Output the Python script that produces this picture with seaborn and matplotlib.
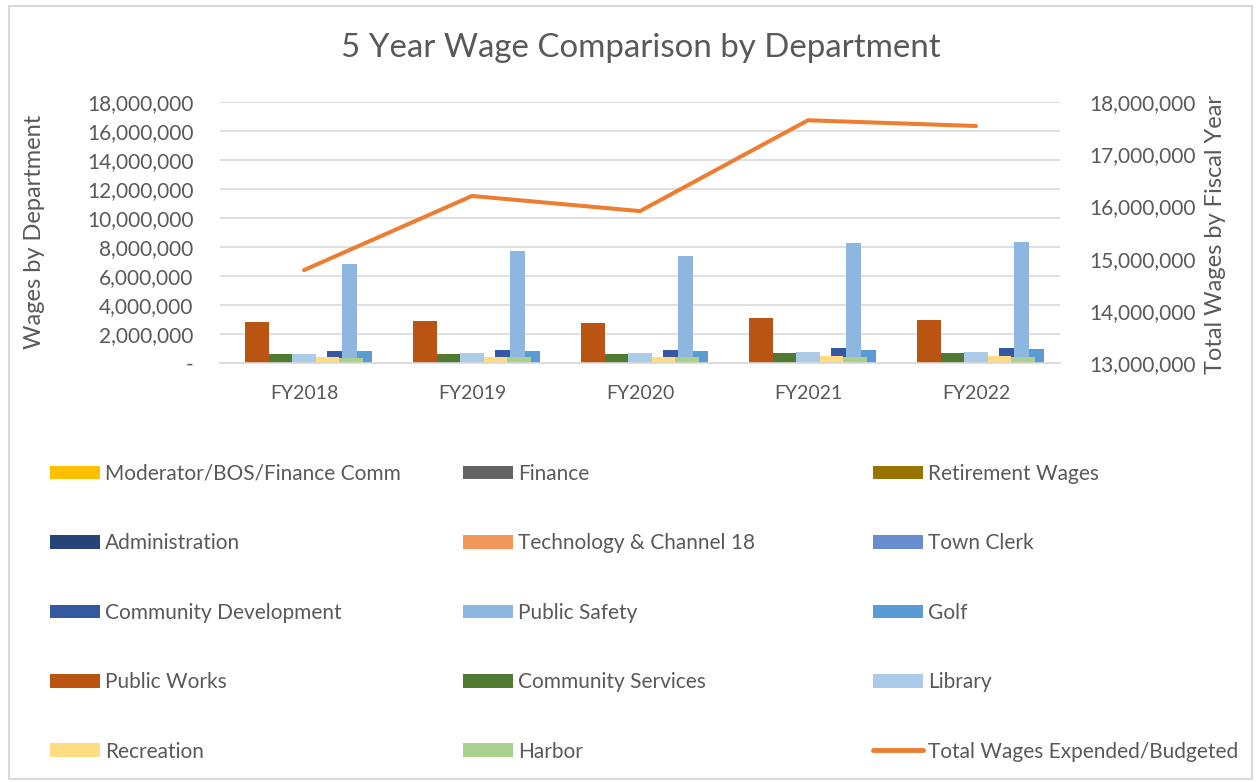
import numpy as np
import pandas as pd
import matplotlib
matplotlib.use('Agg')
import matplotlib.pyplot as plt
import seaborn as sns
from matplotlib.patches import Patch, Rectangle
from matplotlib.lines import Line2D
from matplotlib.ticker import FuncFormatter, MultipleLocator

# ---------------- data ----------------
years = ['FY2018', 'FY2019', 'FY2020', 'FY2021', 'FY2022']

moderator_bos_finance = [0, 0, 0, 0, 0]
finance = [0, 0, 0, 0, 0]
retirement_wages = [0, 0, 0, 0, 0]
administration = [0, 0, 0, 0, 0]
technology_channel18 = [0, 0, 0, 0, 0]
town_clerk = [0, 0, 0, 0, 0]
community_development = [830000, 900000, 900000, 1060000, 1030000]
public_safety = [6830000, 7720000, 7380000, 8300000, 8340000]
golf = [830000, 850000, 800000, 900000, 940000]
public_works = [2810000, 2900000, 2780000, 3080000, 2990000]
community_services = [620000, 620000, 620000, 690000, 690000]
library = [620000, 690000, 690000, 760000, 760000]
recreation = [410000, 440000, 440000, 480000, 480000]
harbor = [370000, 390000, 410000, 440000, 440000]
total_wages = [14780000, 16200000, 15910000, 17650000, 17540000]

group_a = {
    'Moderator/BOS/Finance Comm': moderator_bos_finance,
    'Finance': finance,
    'Retirement Wages': retirement_wages,
    'Administration': administration,
    'Technology & Channel 18': technology_channel18,
    'Town Clerk': town_clerk,
    'Community Development': community_development,
    'Public Safety': public_safety,
    'Golf': golf,
}
group_b = {
    'Public Works': public_works,
    'Community Services': community_services,
    'Library': library,
    'Recreation': recreation,
    'Harbor': harbor,
}
line_label = 'Total Wages Expended/Budgeted'

colors = {
    'Moderator/BOS/Finance Comm': '#FFC000',
    'Finance': '#636363',
    'Retirement Wages': '#997300',
    'Administration': '#264478',
    'Technology & Channel 18': '#F1975A',
    'Town Clerk': '#698ED0',
    'Community Development': '#335AA1',
    'Public Safety': '#8DB6E0',
    'Golf': '#5B9BD5',
    'Public Works': '#B95412',
    'Community Services': '#507A30',
    'Library': '#ABCBE8',
    'Recreation': '#FFDC82',
    'Harbor': '#AAD08E',
}
line_color = '#ED7D31'
text_color = '#595959'
grid_color = '#D9D9D9'


def to_long(group):
    rows = []
    for dept, vals in group.items():
        for y, v in zip(years, vals):
            rows.append({'year': y, 'dept': dept, 'value': v})
    return pd.DataFrame(rows)


df_a = to_long(group_a)
df_b = to_long(group_b)

# ---------------- figure ----------------
sns.set_style('white')
plt.rcParams['font.family'] = ['Lato', 'DejaVu Sans']

W, H = 1256, 782
fig = plt.figure(figsize=(W / 100, H / 100), dpi=100)
ax = fig.add_axes([220 / W, 1 - 363 / H, 840 / W, 261 / H])

sns.barplot(data=df_a, x='year', y='value', hue='dept', order=years,
            hue_order=list(group_a.keys()), palette=colors, width=0.804,
            dodge=True, errorbar=None, legend=False, saturation=1,
            linewidth=0, ax=ax)
sns.barplot(data=df_b, x='year', y='value', hue='dept', order=years,
            hue_order=list(group_b.keys()), palette=colors, width=0.70,
            dodge=True, errorbar=None, legend=False, saturation=1,
            linewidth=0, ax=ax)

ax.set_ylim(0, 18000000)
ax.set_xlim(-0.5, 4.5)
ax.yaxis.set_major_locator(MultipleLocator(2000000))
ax.yaxis.set_major_formatter(FuncFormatter(lambda v, p: '-' if v == 0 else f'{v:,.0f}'))
ax.set_axisbelow(True)
ax.yaxis.grid(True, color=grid_color, linewidth=1.2)
ax.xaxis.grid(False)
ax.set_xlabel('')
ax.set_ylabel('')
for s in ['top', 'left', 'right']:
    ax.spines[s].set_visible(False)
ax.spines['bottom'].set_color(grid_color)
ax.spines['bottom'].set_linewidth(1.2)
ax.tick_params(axis='y', length=0, pad=19, labelsize=15, labelcolor=text_color)
ax.tick_params(axis='x', length=0, pad=16, labelsize=14, labelcolor=text_color)

ax2 = ax.twinx()
sns.lineplot(x=np.arange(len(years)), y=total_wages, ax=ax2, color=line_color,
             linewidth=2.9, legend=False, solid_capstyle='round')
ax2.set_ylim(13000000, 18000000)
ax2.set_xlim(-0.5, 4.5)
ax2.yaxis.set_major_locator(MultipleLocator(1000000))
ax2.yaxis.set_major_formatter(FuncFormatter(lambda v, p: f'{v:,.0f}'))
ax2.grid(False)
for s in ax2.spines.values():
    s.set_visible(False)
ax2.tick_params(axis='y', length=0, pad=21, labelsize=15, labelcolor=text_color)

# titles / labels
fig.text(641 / W, 1 - 48 / H, '5 Year Wage Comparison by Department',
         ha='center', va='center', fontsize=23.8, color=text_color)
fig.text(35 / W, 1 - 232 / H, 'Wages by Department', rotation=90,
         ha='center', va='center', fontsize=17, color=text_color)
fig.text(1215 / W, 1 - 235 / H, 'Total Wages by Fiscal Year', rotation=90,
         ha='center', va='center', fontsize=17, color=text_color)

# border
fig.add_artist(Rectangle((9 / W, 3 / H), (W - 13) / W, (H - 9) / H,
                         transform=fig.transFigure, fill=False,
                         edgecolor=grid_color, linewidth=1.5))

# legend in three columns (row-wise order)
entries = [(k, 'bar') for k in list(group_a.keys()) + list(group_b.keys())] + [(line_label, 'line')]
col_x = [50, 463, 873]
for ci in range(3):
    col = entries[ci::3]
    handles, labels = [], []
    for lab, kind in col:
        if kind == 'bar':
            handles.append(Patch(facecolor=colors[lab], edgecolor='none'))
        else:
            handles.append(Line2D([0], [0], color=line_color, linewidth=3.5,
                                  solid_capstyle='round'))
        labels.append(lab)
    fig.legend(handles, labels, loc='upper left',
               bbox_to_anchor=(col_x[ci] / W, 1 - 464 / H), frameon=False,
               fontsize=15, handlelength=2.4, handleheight=0.62,
               handletextpad=0.25, labelspacing=2.37, borderpad=0,
               borderaxespad=0, labelcolor=text_color)

fig.savefig('out.png', dpi=100)
